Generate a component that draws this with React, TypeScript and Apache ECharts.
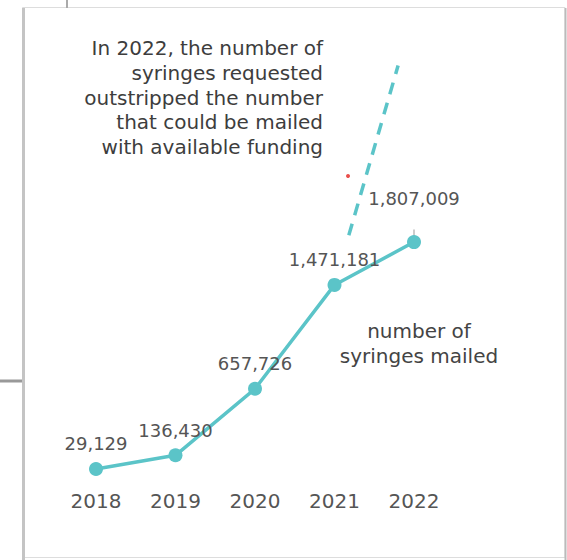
import React, { useEffect, useRef } from "react";
import * as echarts from "echarts";

const years = [2018, 2019, 2020, 2021, 2022];
const mailed = [29129, 136430, 657726, 1471181, 1807009];
// projected "requested" dashed segment
const requestedX = [2021.18, 2021.8];
const requestedY = [1860000, 3190000];
const stray = [[2021.17, 2325000]];
const annotation = [
  "In 2022, the number of",
  "syringes requested",
  "outstripped the number",
  "that could be mailed",
  "with available funding",
];
const seriesNote = ["number of", "syringes mailed"];

const TEAL = "#5bc4c8";
const FONT = "DejaVu Sans";

export default function App() {
  const ref = useRef<HTMLDivElement>(null);
  useEffect(() => {
    if (!ref.current) return;
    const chart = echarts.init(ref.current, null, { renderer: "svg" });
    const fmt = (v: number) => v.toLocaleString("en-US");
    chart.setOption({
      animation: false,
      backgroundColor: "#fff",
      grid: { left: 96, right: 153, top: 26, bottom: 87.3 },
      xAxis: {
        type: "value",
        min: 2018,
        max: 2022,
        interval: 1,
        axisLine: { show: false },
        axisTick: { show: false },
        splitLine: { show: false },
        axisLabel: {
          color: "#555",
          fontFamily: FONT,
          fontSize: 20,
          margin: 18,
          formatter: (v: number) => String(v),
        },
      },
      yAxis: {
        type: "value",
        min: 0,
        max: 3500000,
        show: false,
        splitLine: { show: false },
      },
      graphic: [
        { type: "line", shape: { x1: 67, y1: 0, x2: 67, y2: 8 }, style: { stroke: "#aaa", lineWidth: 2 } },
        { type: "line", shape: { x1: 0, y1: 381, x2: 22, y2: 381 }, style: { stroke: "#999", lineWidth: 3 } },
        {
          type: "rect",
          shape: { x: 22.5, y: 7.5, width: 542.5, height: 550 },
          style: { fill: "#fff", stroke: "#ddd", lineWidth: 1 },
          z: -10,
        },
        { type: "line", shape: { x1: 23.5, y1: 8, x2: 23.5, y2: 560 }, style: { stroke: "#c4c4c4", lineWidth: 3 }, z: -9 },
        { type: "line", shape: { x1: 565.5, y1: 8, x2: 565.5, y2: 560 }, style: { stroke: "#bbb", lineWidth: 2 }, z: -9 },
        {
          type: "text",
          x: 323,
          y: 36,
          style: {
            text: annotation.join("\n"),
            align: "right",
            verticalAlign: "top",
            lineHeight: 24.6,
            font: `20px "${FONT}"`,
            fill: "#3d3d3d",
          },
        },
        {
          type: "text",
          x: 419,
          y: 318,
          style: {
            text: seriesNote.join("\n"),
            align: "center",
            verticalAlign: "top",
            lineHeight: 25,
            font: `20px "${FONT}"`,
            fill: "#444",
          },
        },
      ],
      series: [
        {
          type: "line",
          data: requestedX.map((x, i) => [x, requestedY[i]]),
          showSymbol: false,
          clip: false,
          lineStyle: { color: TEAL, width: 3.5, type: [12, 9] },
          z: 1,
        },
        {
          type: "scatter",
          data: [[years[4], mailed[4]]],
          symbol: "rect",
          symbolSize: [1.5, 13],
          symbolOffset: [0, -6],
          itemStyle: { color: "#aaa" },
          z: 1,
        },
        {
          type: "line",
          data: years.map((y, i) => ({
            value: [y, mailed[i]],
            label: { distance: i === years.length - 1 ? 28 : 9 },
          })),
          symbol: "circle",
          symbolSize: 14,
          lineStyle: { color: TEAL, width: 3.5 },
          itemStyle: { color: TEAL },
          label: {
            show: true,
            position: "top",
            color: "#555",
            fontFamily: FONT,
            fontSize: 18,
            formatter: (p: any) => fmt(p.value[1]),
          },
          z: 3,
        },
        {
          type: "scatter",
          data: stray,
          symbolSize: 4,
          itemStyle: { color: "#e3231f" },
          z: 4,
        },
      ],
    });
    return () => chart.dispose();
  }, []);
  return (
    <div
      ref={ref}
      style={{ position: "absolute", left: 0, top: 0, width: 567, height: 560 }}
    />
  );
}
